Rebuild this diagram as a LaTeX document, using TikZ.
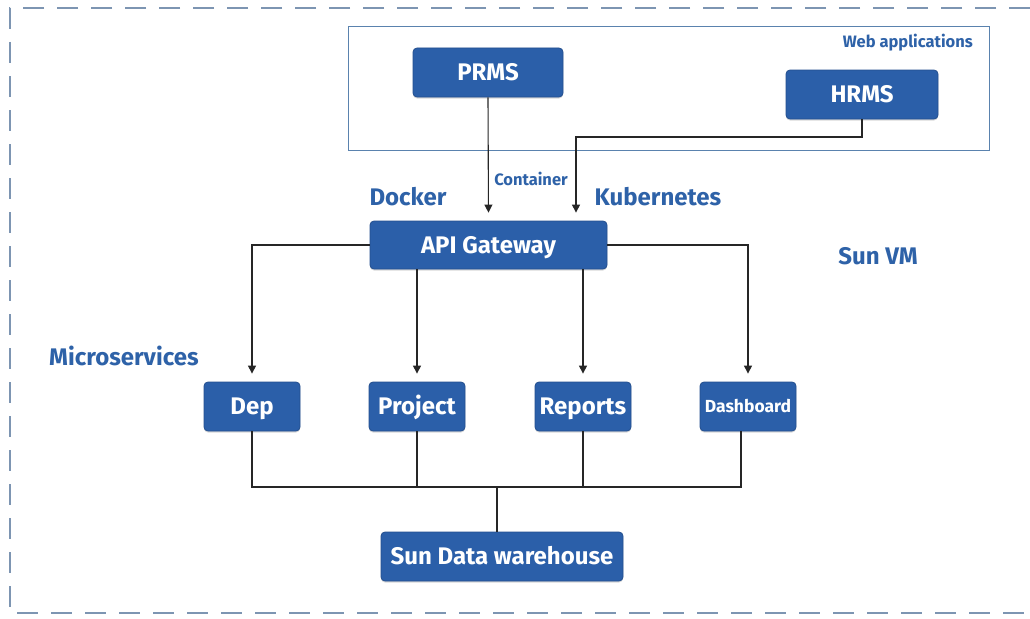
\documentclass[tikz,border=0pt]{standalone}
\usepackage{fontspec}
\setmainfont{Fira Sans}
\usetikzlibrary{shadows,arrows.meta}
\definecolor{boxblue}{HTML}{2B5FA9}
\definecolor{boxedge}{HTML}{244F8E}
\definecolor{lblblue}{HTML}{2E62A8}
\definecolor{frame}{HTML}{7D95B2}
\definecolor{webedge}{HTML}{5A82AE}
\tikzset{
  box/.style={draw=boxedge, line width=0.8pt, fill=boxblue, rounded corners=4pt,
    text=white, font=\bfseries\fontsize{24}{26}\selectfont, inner sep=0pt,
    text height=16.5pt, text depth=0pt,
    drop shadow={opacity=0.3, shadow xshift=0pt, shadow yshift=-1.5pt}},
  lbl/.style={text=lblblue, font=\bfseries\fontsize{24}{26}\selectfont, inner sep=0pt,
    text height=16.5pt, text depth=0pt},
  small/.style={font=\bfseries\fontsize{16.5}{18}\selectfont, text height=11.4pt},
  conn/.style={draw=black!85, line width=1.1pt},
  arr/.style={conn, -{Triangle[length=8pt,width=8pt]}, shorten >=8pt}
}
\begin{document}
\begin{tikzpicture}[x=1pt,y=-1pt]
\useasboundingbox (0,0) rectangle (1030,618);
\fill[white] (0,0) rectangle (1030,618);
% outer dashed frame (right side off page)
\draw[frame, line width=1.3pt, dash pattern=on 21pt off 13pt] (1030,8) -- (10,8) -- (10,613) -- (1030,613);
% web applications frame
\draw[webedge, line width=1pt] (348,27) rectangle (989,150);
\node[lbl, small, anchor=east] (webl) at (973,42) {Web applications};

\node[box, minimum width=150pt, minimum height=49pt] (prms) at (488,72.5) {PRMS};
\node[box, minimum width=152pt, minimum height=49pt] (hrms) at (862,94.5) {HRMS};
\node[box, minimum width=237pt, minimum height=48pt] (api) at (488.5,245) {API Gateway};
\node[box, minimum width=96pt, minimum height=49pt] (dep) at (252,406.5) {Dep};
\node[box, minimum width=96pt, minimum height=49pt] (proj) at (417,406.5) {Project};
\node[box, minimum width=96pt, minimum height=49pt] (rep) at (583,406.5) {Reports};
\node[box, minimum width=96pt, minimum height=49pt, font=\bfseries\fontsize{17.5}{19}\selectfont, text height=12pt] (dash) at (748,406.5) {Dashboard};
\node[box, minimum width=242pt, minimum height=49pt] (sdw) at (502,556.5) {Sun Data warehouse};

\node[lbl, small] (cont) at (531,180) {Container};
\node[lbl] (docker) at (408,197) {Docker};
\node[lbl] (kube) at (658,197) {Kubernetes};
\node[lbl] (sunvm) at (878,256) {Sun VM};
\node[lbl, anchor=west] (micro) at (49,357) {Microservices};

% top arrows
\draw[arr] (prms.south) -- (api.north);
\coordinate (h1) at (862,137);
\coordinate (h2) at (576,137);
\draw[arr] (hrms.south) -- (h1) -- (h2) -- (h2 |- api.north);
% gateway to services
\draw[arr] (api.west) -| (dep.north);
\draw[arr] (api.south -| proj.north) -- (proj.north);
\draw[arr] (api.south -| rep.north) -- (rep.north);
\draw[arr] (api.east) -| (dash.north);
% services to warehouse
\coordinate (busl) at (252,487);
\coordinate (busr) at (741,487);
\coordinate (busm) at (497,487);
\draw[conn] (dep.south) -- (busl) -- (busr) -- (busr |- dash.south);
\draw[conn] (proj.south) -- (proj.south |- busl);
\draw[conn] (rep.south) -- (rep.south |- busl);
\draw[conn] (busm) -- (busm |- sdw.north);
\end{tikzpicture}
\end{document}
